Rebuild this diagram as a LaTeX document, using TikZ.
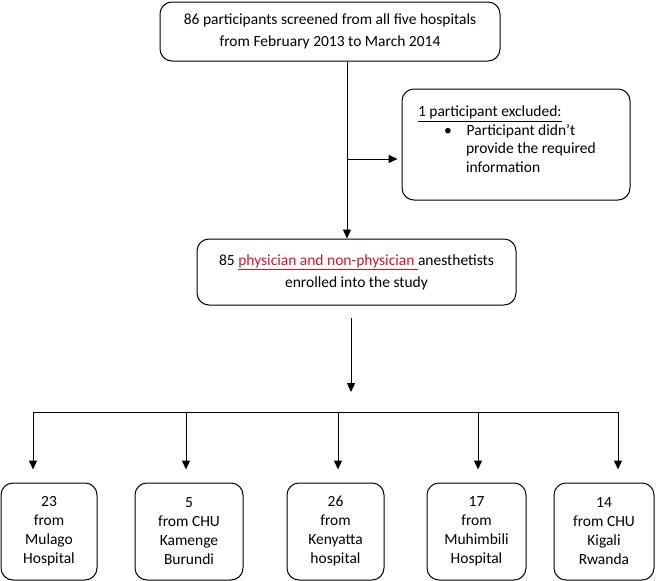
\documentclass[tikz,border=0pt]{standalone}
\usepackage{fontspec}
\setmainfont{Carlito}
\usetikzlibrary{positioning, arrows.meta, calc}
\definecolor{linkred}{RGB}{192,30,45}
\tikzset{rbox/.style={draw, line width=1pt, rounded corners=12pt, align=center, inner sep=2pt, font=\fontsize{15.5}{22}\selectfont}}
\tikzset{sitebox/.style={rbox, minimum height=97pt, font=\fontsize{15.5}{19}\selectfont}}
\tikzset{arr/.style={line width=1pt, -{Triangle[length=9pt,width=8pt]}}}

\begin{document}
\begin{tikzpicture}[x=1pt, y=-1pt]
    \useasboundingbox (0,0) rectangle (656,581);

        \node[rbox, minimum width=340pt, minimum height=59pt] (screen) at (330,31.5)
            {86 participants screened from all five hospitals\\from February 2013 to March 2014};
        \node[rbox, minimum width=228pt, minimum height=111pt, align=flush left, text width=196pt, inner xsep=16pt, font=\fontsize{15.5}{18.5}\selectfont] (excl) at (516,144.5)
            {\underline{1 participant excluded:}\\
             \hspace*{26pt}\textbullet\hspace{15pt}Participant didn't\\
             \hspace*{48pt}provide the required\\
             \hspace*{48pt}information\\[-8pt]\mbox{}};
        \node[rbox, minimum width=319pt, minimum height=66pt] (enrol) at (356.5,272)
            {85 \textcolor{linkred}{\underline{physician and non-physician\ }}anesthetists\\enrolled into the study};

        % one box per hospital
        \node[sitebox, minimum width=96pt]  (mulago)    at (49,531.5)    {23\\from\\Mulago\\Hospital};
        \node[sitebox, minimum width=108pt] (kamenge)   at (189,531.5)   {5\\from CHU\\Kamenge\\Burundi};
        \node[sitebox, minimum width=97pt]  (kenyatta)  at (335.5,531.5) {26\\from\\Kenyatta\\hospital};
        \node[sitebox, minimum width=99pt]  (muhimbili) at (476.5,531.5) {17\\from\\Muhimbili\\Hospital};
        \node[sitebox, minimum width=100pt] (kigali)    at (604,531.5)   {14\\from CHU\\Kigali\\Rwanda};

        \coordinate (split) at (347,159);
        \coordinate (down) at (351,318);
        \coordinate (busL) at (33,412);
        \coordinate (busR) at (618,412);

        \draw[arr] (screen.south -| split) -- (enrol.north -| split);
        \draw[arr] (split) -- ([xshift=-4pt]excl.west |- split);
        \draw[arr] (down) -- ++(0,74);
        \draw[line width=1pt] (busL) -- (busR);
        \foreach \b/\dx in {mulago/-16, kamenge/-3, kenyatta/2.5, muhimbili/1.5, kigali/14}
            \draw[arr] ([xshift=\dx pt]\b.north |- busL) -- ([xshift=\dx pt, yshift=13pt]\b.north);

\end{tikzpicture}
\end{document}
